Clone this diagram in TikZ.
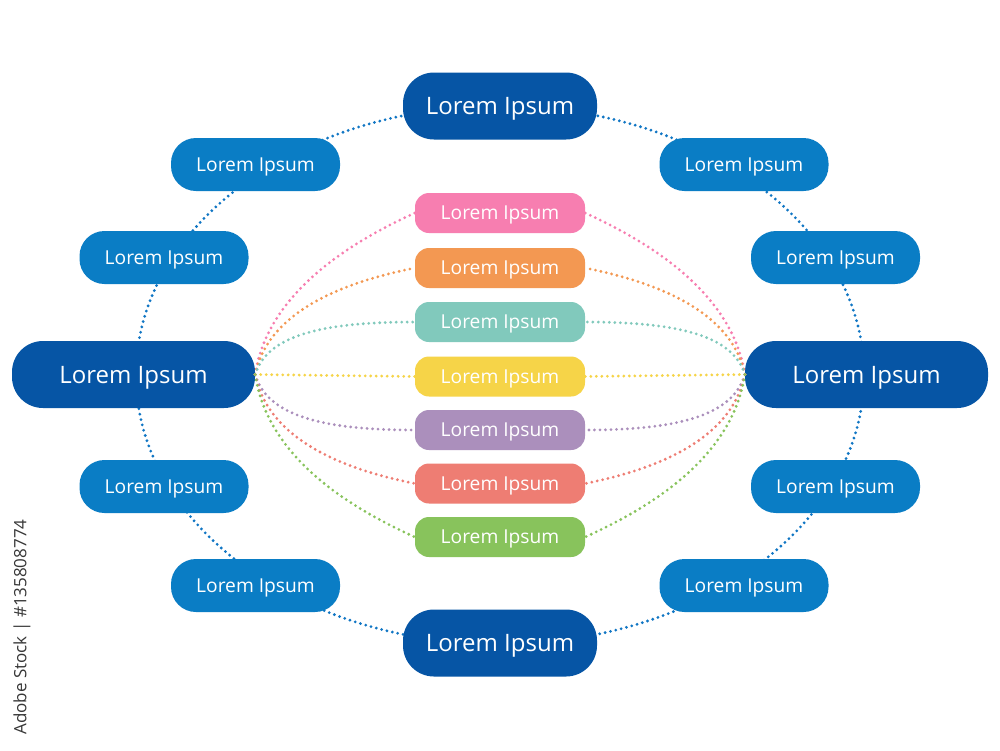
\documentclass[tikz,border=0pt]{standalone}
\usepackage{fontspec}
\setmainfont{Open Sans}
\definecolor{dblue}{RGB}{6,85,165}
\definecolor{mblue}{RGB}{10,125,197}
\definecolor{ringblue}{RGB}{16,118,196}
\definecolor{cpink}{RGB}{247,126,176}
\definecolor{corange}{RGB}{243,152,82}
\definecolor{cteal}{RGB}{129,201,188}
\definecolor{cyellow}{RGB}{246,212,72}
\definecolor{cpurple}{RGB}{171,143,188}
\definecolor{csalmon}{RGB}{238,125,115}
\definecolor{cgreen}{RGB}{136,195,92}
\definecolor{wmgray}{RGB}{55,55,55}
\begin{document}
\begin{tikzpicture}[x=1pt,y=-1pt,
  big/.style={fill=dblue, text=white, rounded corners=31pt, minimum width=194pt, minimum height=67pt, inner sep=0pt, text depth=0pt, font=\fontsize{24}{24}\selectfont},
  mid/.style={fill=mblue, text=white, rounded corners=25pt, minimum width=169pt, minimum height=53pt, inner sep=0pt, text depth=0pt, font=\fontsize{19.2}{19.2}\selectfont},
  col/.style={text=white, rounded corners=14pt, minimum width=170pt, minimum height=40pt, inner sep=0pt, text depth=0pt, font=\fontsize{19.2}{19.2}\selectfont},
  dots/.style={line width=3.1pt, dash pattern=on 0pt off 5.5pt, line cap=round},
  ring/.style={dots, draw=ringblue}]
\useasboundingbox (0,0) rectangle (1000,750);
\fill[white] (0,0) rectangle (1000,750);

% outer dotted ring
\draw[ring] (500,375) ellipse [x radius=364pt, y radius=269pt];

% big nodes
\node[big] (T) at (500,106) {Lorem Ipsum};
\node[big] (B) at (500,643) {Lorem Ipsum};
\node[big, minimum width=243pt] (L) at (133.5,374.5) {Lorem Ipsum};
\node[big, minimum width=243pt] (R) at (866.5,374.5) {Lorem Ipsum};

% medium nodes
\node[mid] (m1) at (255.5,164.5) {Lorem Ipsum};
\node[mid] (m2) at (744,164.5) {Lorem Ipsum};
\node[mid] (m3) at (164,257.5) {Lorem Ipsum};
\node[mid] (m4) at (835.5,257.5) {Lorem Ipsum};
\node[mid] (m5) at (164,486.5) {Lorem Ipsum};
\node[mid] (m6) at (835.5,486.5) {Lorem Ipsum};
\node[mid] (m7) at (255.5,585.5) {Lorem Ipsum};
\node[mid] (m8) at (744,585.5) {Lorem Ipsum};

% coloured nodes
\node[col, fill=cpink] (c1) at (500,213) {Lorem Ipsum};
\node[col, fill=corange] (c2) at (500,268) {Lorem Ipsum};
\node[col, fill=cteal] (c3) at (500,322) {Lorem Ipsum};
\node[col, fill=cyellow] (c4) at (500,376.5) {Lorem Ipsum};
\node[col, fill=cpurple] (c5) at (500,430) {Lorem Ipsum};
\node[col, fill=csalmon] (c6) at (500,483.5) {Lorem Ipsum};
\node[col, fill=cgreen] (c7) at (500,537) {Lorem Ipsum};

% coloured connectors (left)
\draw[dots, draw=cpink] (L.east) .. controls +(13,-86) and +(-55,25) .. (c1.west);
\draw[dots, draw=corange] (L.east) .. controls +(14,-68) and +(-60,12) .. (c2.west);
\draw[dots, draw=cteal] (L.east) .. controls +(12,-40) and +(-90,0) .. (c3.west);
\draw[dots, draw=cyellow] (L.east) -- (c4.west);
\draw[dots, draw=cpurple] (L.east) .. controls +(12,42) and +(-90,0) .. (c5.west);
\draw[dots, draw=csalmon] (L.east) .. controls +(14,70) and +(-60,-12) .. (c6.west);
\draw[dots, draw=cgreen] (L.east) .. controls +(13,88) and +(-55,-25) .. (c7.west);
% coloured connectors (right)
\draw[dots, draw=cpink] (R.west) .. controls +(-13,-86) and +(55,25) .. (c1.east);
\draw[dots, draw=corange] (R.west) .. controls +(-14,-68) and +(60,12) .. (c2.east);
\draw[dots, draw=cteal] (R.west) .. controls +(-12,-40) and +(90,0) .. (c3.east);
\draw[dots, draw=cyellow] (R.west) -- (c4.east);
\draw[dots, draw=cpurple] (R.west) .. controls +(-12,42) and +(90,0) .. (c5.east);
\draw[dots, draw=csalmon] (R.west) .. controls +(-14,70) and +(60,-12) .. (c6.east);
\draw[dots, draw=cgreen] (R.west) .. controls +(-13,88) and +(55,-25) .. (c7.east);

% vertical credit text
\node[rotate=90, text=wmgray, font=\fontsize{17}{17}\selectfont, inner sep=0pt] (wm) at (22,627) {Adobe Stock | \#135808774};
\end{tikzpicture}
\end{document}
